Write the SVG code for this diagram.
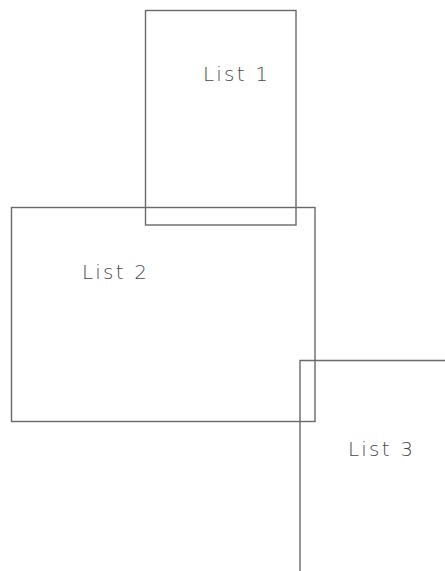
<svg xmlns="http://www.w3.org/2000/svg" width="445" height="571" viewBox="0 0 445 571">
<style>
.b{fill:none;stroke:#6a6a6a;stroke-width:1.4}
.t{font-family:"DejaVu Sans","Liberation Sans",sans-serif;font-weight:200;font-size:20px;fill:#4a4a4a;letter-spacing:2.2px}
</style>
<rect width="445" height="571" fill="#fff"/>
<g id="list1">
<rect class="b" x="145.5" y="10.5" width="150.5" height="214.5"/>
<text class="t" x="203" y="81">List 1</text>
</g>
<g id="list2">
<rect class="b" x="11.5" y="207.5" width="303.5" height="214"/>
<text class="t" x="82" y="279">List 2</text>
</g>
<g id="list3">
<path class="b" d="M445 360.5H300V571"/>
<text class="t" x="348" y="456">List 3</text>
</g>
<g id="connectors"></g>
</svg>
